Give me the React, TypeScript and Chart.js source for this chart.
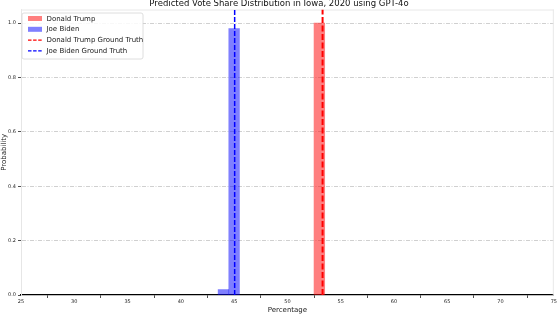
import React, { useEffect, useRef } from 'react';
import { Chart, registerables } from 'chart.js';

Chart.register(...registerables);

const titleText = 'Predicted Vote Share Distribution in Iowa, 2020 using GPT-4o';
const xAxisLabel = 'Percentage';
const yAxisLabel = 'Probability';
const candidates = ['Donald Trump', 'Joe Biden'];
const trumpBinCenters = [53];
const trumpProbabilities = [1.0];
const bidenBinCenters = [44, 45];
const bidenProbabilities = [0.02, 0.98];
const groundTruthValues = [53.3, 45.05]; // Trump, Biden
const xRange = [25, 75];
const xTickStep = 5;
const yRange = [0, 1.05];
const yTickStep = 0.2;

const FONT = "'DejaVu Sans', sans-serif";
const RED = 'rgba(255,0,0,0.5)';
const BLUE = 'rgba(0,0,255,0.5)';

const decorPlugin = {
  id: 'decor',
  beforeDatasetsDraw(chart: any) {
    const { ctx, chartArea: a } = chart;
    ctx.save();
    ctx.strokeStyle = '#e8e8e8';
    ctx.lineWidth = 1;
    ctx.beginPath();
    ctx.moveTo(a.left, a.top + 0.5);
    ctx.lineTo(a.right, a.top + 0.5);
    ctx.moveTo(a.right - 0.5, a.top);
    ctx.lineTo(a.right - 0.5, a.bottom);
    ctx.stroke();
    ctx.restore();
  },
  afterDraw(chart: any) {
    const { ctx, chartArea: a, width } = chart;
    ctx.save();
    // title
    ctx.fillStyle = '#111';
    ctx.font = `8.5px ${FONT}`;
    ctx.textAlign = 'center';
    ctx.textBaseline = 'middle';
    ctx.fillText(titleText, width / 2, 3.5);

    // legend
    const bx = a.left + 1;
    const by = a.top + 3.5;
    const bw = 121;
    const bh = 46;
    ctx.fillStyle = 'rgba(255,255,255,0.85)';
    ctx.strokeStyle = '#d6d6d6';
    ctx.lineWidth = 0.8;
    ctx.beginPath();
    ctx.roundRect(bx, by, bw, bh, 2);
    ctx.fill();
    ctx.stroke();
    const datasets = chart.data.datasets;
    ctx.font = `7px ${FONT}`;
    ctx.textAlign = 'left';
    datasets.forEach((ds: any, i: number) => {
      const cy = by + 5.5 + i * 10.8;
      const hx = bx + 6;
      const hw = 14;
      if (ds.type === 'bar' || !ds.type) {
        ctx.fillStyle = ds.backgroundColor;
        ctx.fillRect(hx, cy - 2.5, hw, 5);
      } else {
        ctx.strokeStyle = ds.borderColor;
        ctx.lineWidth = 1.3;
        ctx.setLineDash([3.5, 1.6]);
        ctx.beginPath();
        ctx.moveTo(hx, cy);
        ctx.lineTo(hx + hw, cy);
        ctx.stroke();
        ctx.setLineDash([]);
      }
      ctx.fillStyle = '#222';
      ctx.fillText(ds.label, hx + hw + 4.5, cy + 0.3);
    });
    ctx.restore();
  },
};

export default function App() {
  const ref = useRef<HTMLCanvasElement>(null);
  useEffect(() => {
    document.body.style.margin = '0';
    const canvas = ref.current!;
    const chart = new Chart(canvas, {
      type: 'bar',
      data: {
        datasets: [
          {
            type: 'bar',
            label: candidates[0],
            data: trumpBinCenters.map((x, i) => ({ x, y: trumpProbabilities[i] })),
            backgroundColor: RED,
            borderWidth: 0,
            grouped: false,
            barPercentage: 1,
            categoryPercentage: 1,
            order: 2,
          } as any,
          {
            type: 'bar',
            label: candidates[1],
            data: bidenBinCenters.map((x, i) => ({ x, y: bidenProbabilities[i] })),
            backgroundColor: BLUE,
            borderWidth: 0,
            grouped: false,
            barPercentage: 1,
            categoryPercentage: 1,
            order: 2,
          } as any,
          {
            type: 'line',
            label: `${candidates[0]} Ground Truth`,
            data: [
              { x: groundTruthValues[0], y: yRange[0] },
              { x: groundTruthValues[0], y: yRange[1] },
            ],
            borderColor: '#ff0000',
            borderWidth: 2,
            borderDash: [6, 2.5],
            pointRadius: 0,
            order: 1,
          } as any,
          {
            type: 'line',
            label: `${candidates[1]} Ground Truth`,
            data: [
              { x: groundTruthValues[1], y: yRange[0] },
              { x: groundTruthValues[1], y: yRange[1] },
            ],
            borderColor: '#0000ff',
            borderWidth: 1.5,
            borderDash: [5, 2],
            pointRadius: 0,
            order: 1,
          } as any,
        ],
      },
      options: {
        animation: false,
        responsive: false,
        maintainAspectRatio: false,
        layout: { padding: { top: 9.5, right: 3, left: 0, bottom: 0 } },
        plugins: {
          legend: { display: false },
          title: { display: false },
          tooltip: { enabled: false },
        },
        scales: {
          x: {
            type: 'linear',
            min: xRange[0],
            max: xRange[1],
            offset: false,
            afterFit: (s: any) => {
              s.height = 19;
            },
            ticks: {
              stepSize: xTickStep,
              font: { family: FONT, size: 5 },
              color: '#222',
              padding: 1,
              maxRotation: 0,
              autoSkip: false,
            },
            grid: {
              color: 'rgba(0,0,0,0)',
              tickColor: '#222',
              tickLength: 3,
              tickWidth: 0.8,
            },
            border: { color: '#000', width: 1.3 },
            title: {
              display: true,
              text: xAxisLabel,
              font: { family: FONT, size: 7 },
              color: '#222',
              padding: 0,
            },
          },
          y: {
            type: 'linear',
            min: yRange[0],
            max: yRange[1],
            afterFit: (s: any) => {
              s.width = 21;
            },
            ticks: {
              stepSize: yTickStep,
              includeBounds: false,
              font: { family: FONT, size: 5 },
              color: '#222',
              padding: 2,
              callback: (v: any) => Number(v).toFixed(1),
            },
            grid: {
              color: (c: any) => (c.tick && c.tick.value === 0 ? 'rgba(0,0,0,0)' : '#c4c4c4'),
              lineWidth: 0.8,
              tickColor: '#222',
              tickLength: 3,
              tickWidth: 0.8,
            },
            border: { color: '#e6e6e6', width: 1, dash: [4, 1.5, 1, 1.5] },
            title: {
              display: true,
              text: yAxisLabel,
              font: { family: FONT, size: 7 },
              color: '#222',
              padding: 0,
            },
          },
        },
      },
      plugins: [decorPlugin],
    });
    return () => chart.destroy();
  }, []);
  return (
    <div style={{ position: 'fixed', left: 0, top: 0, width: 558, height: 314 }}>
      <canvas ref={ref} width={558} height={314} style={{ width: 558, height: 314 }} />
    </div>
  );
}
